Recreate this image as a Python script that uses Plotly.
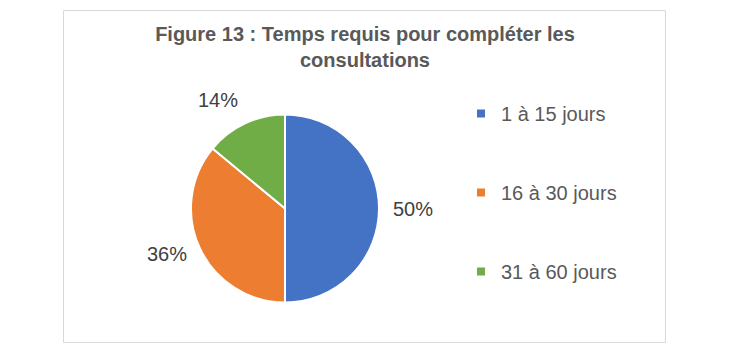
import numpy as np
import plotly.graph_objects as go

categories = ["1 à 15 jours", "16 à 30 jours", "31 à 60 jours"]
values = [50, 36, 14]
colors = ["#4472C4", "#ED7D31", "#70AD47"]
title_text = "Figure 13 : Temps requis pour compléter les<br>consultations"

W, H = 731, 354
cx, cy, R = 285, 208.5, 94  # pixel centre / radius of pie
label_r = R + 13

fig = go.Figure()
fig.add_trace(go.Pie(
    labels=categories, values=values, sort=False, direction="clockwise", rotation=0,
    marker=dict(colors=colors, line=dict(color="white", width=2)),
    textinfo="none", showlegend=False, hoverinfo="label+percent",
    domain=dict(x=[(cx - R) / W, (cx + R) / W], y=[(H - cy - R) / H, (H - cy + R) / H]),
))

# legend entries
for i, (c, col) in enumerate(zip(categories, colors)):
    fig.add_trace(go.Scatter(x=[None], y=[None], mode="markers", name=c,
                             marker=dict(symbol="square", size=8, color=col),
                             legendgroup=f"g{i}"))

# percentage labels (outside end, anchored by their nearest corner)
total = sum(values)
cum = 0
annotations = []
for v in values:
    mid = (cum + v / 2) / total * 2 * np.pi
    cum += v
    s, c = np.sin(mid), np.cos(mid)
    px = cx + label_r * s
    py = cy - label_r * c
    xa = "center" if abs(s) < 0.2 else ("left" if s > 0 else "right")
    ya = "middle" if abs(c) < 0.5 else ("bottom" if c > 0 else "top")
    annotations.append(dict(x=px / W, y=1 - py / H, xref="paper", yref="paper",
                            text=f"{round(v / total * 100)}%", showarrow=False,
                            font=dict(family="Liberation Sans, Arial", size=20, color="#404040"),
                            xanchor=xa, yanchor=ya, borderpad=0))

fig.update_layout(
    width=W, height=H, margin=dict(l=0, r=0, t=0, b=0),
    paper_bgcolor="white", plot_bgcolor="white",
    title=dict(text=f"<b>{title_text}</b>", x=365 / W, xanchor="center", y=1 - 41 / H, yanchor="top",
               font=dict(family="Liberation Sans, Arial", size=20, color="#595959")),
    xaxis=dict(visible=False), yaxis=dict(visible=False),
    legend=dict(x=461 / W, y=1 - 94 / H, xanchor="left", yanchor="top",
                font=dict(family="Liberation Sans, Arial", size=20, color="#595959"),
                tracegroupgap=50, bgcolor="rgba(0,0,0,0)"),
    annotations=annotations,
    shapes=[dict(type="rect", xref="paper", yref="paper",
                 x0=63.5 / W, x1=665.5 / W, y0=1 - 342.5 / H, y1=1 - 10.5 / H,
                 line=dict(color="#D9D9D9", width=1), fillcolor="rgba(0,0,0,0)")],
)

fig.write_html("out.html")
